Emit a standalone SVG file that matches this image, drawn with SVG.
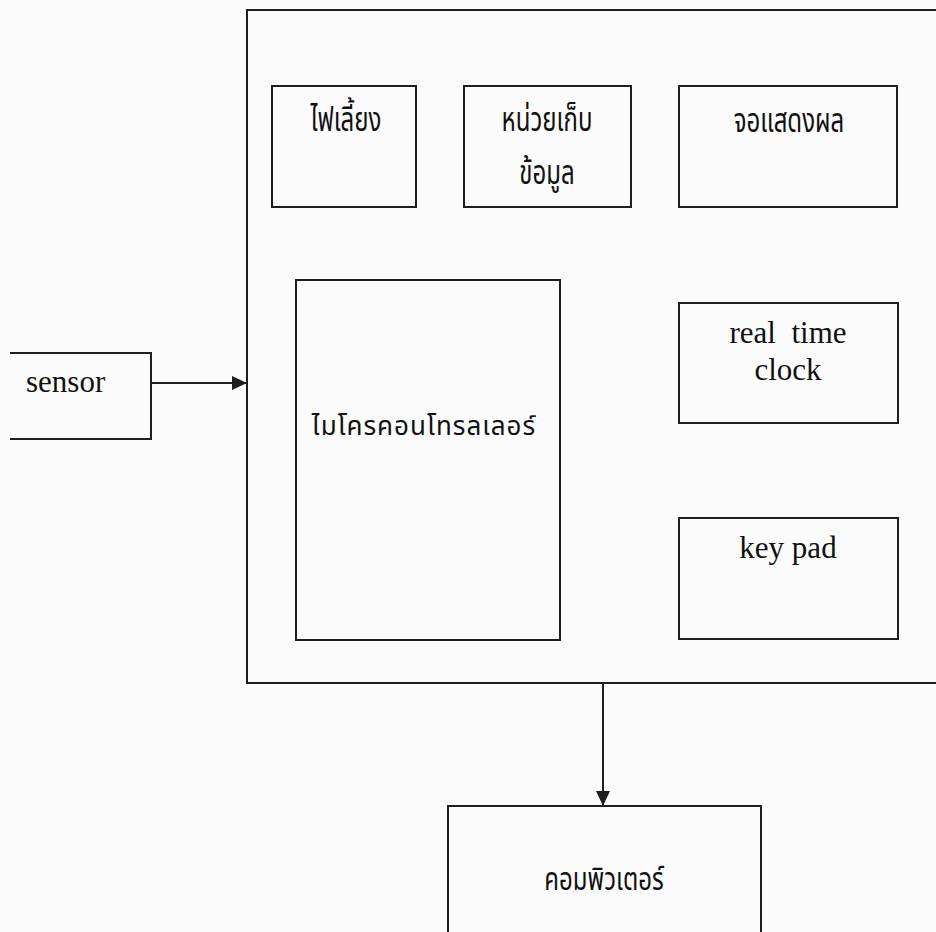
<svg xmlns="http://www.w3.org/2000/svg" width="936" height="932" viewBox="0 0 936 932">
<style>
  .box { fill: none; stroke: #1e1e1e; stroke-width: 2; }
  .edge { fill: none; stroke: #1e1e1e; stroke-width: 2; }
  .en { font-family: "Liberation Serif", "Times New Roman", serif; font-size: 31px; fill: #111; }
  .th { font-family: "Noto Sans Thai", "Noto Sans", "DejaVu Sans", sans-serif; font-size: 24px; fill: #111; }
  .mid { text-anchor: middle; }
</style>
<defs>
  <marker id="arrow" markerWidth="16" markerHeight="14" refX="15" refY="7" orient="auto" markerUnits="userSpaceOnUse">
    <path d="M0,0 L15,7 L0,14 Z" fill="#1e1e1e"/>
  </marker>
</defs>
<rect width="936" height="932" fill="#fbfbfb"/>

<g id="system">
  <path class="box" d="M940,10 L247,10 L247,683 L940,683"/>
</g>

<g id="power">
  <rect class="box" x="272" y="86" width="144" height="121"/>
  <text class="th mid" transform="translate(346,131) scale(1,1.4)">ไฟเลี้ยง</text>
</g>

<g id="storage">
  <rect class="box" x="464" y="86" width="167" height="121"/>
  <text class="th mid" transform="translate(547,131) scale(1,1.4)">หน่วยเก็บ</text>
  <text class="th mid" transform="translate(547,184) scale(1,1.4)">ข้อมูล</text>
</g>

<g id="display">
  <rect class="box" x="679" y="86" width="218" height="121"/>
  <text class="th mid" transform="translate(789,132) scale(1,1.4)">จอแสดงผล</text>
</g>

<g id="mcu">
  <rect class="box" x="296" y="280" width="264" height="360"/>
  <text class="th mid" x="424" y="435" style="font-size:26px; letter-spacing:1px">ไมโครคอนโทรลเลอร์</text>
</g>

<g id="rtc">
  <rect class="box" x="679" y="303" width="219" height="120"/>
  <text class="en mid" x="788" y="343" xml:space="preserve">real  time</text>
  <text class="en mid" x="788" y="380">clock</text>
</g>

<g id="keypad">
  <rect class="box" x="679" y="518" width="219" height="121"/>
  <text class="en mid" x="788" y="558">key pad</text>
</g>

<g id="sensor">
  <path class="box" d="M10,353 L151,353 L151,439 L10,439"/>
  <text class="en" x="26" y="392">sensor</text>
</g>

<g id="computer">
  <path class="box" d="M448,934 L448,806 L761,806 L761,934"/>
  <text class="th mid" transform="translate(604,890) scale(1,1.3)">คอมพิวเตอร์</text>
</g>

<g id="connectors">
  <line class="edge" x1="151" y1="383" x2="247" y2="383" marker-end="url(#arrow)"/>
  <line class="edge" x1="603" y1="683" x2="603" y2="806" marker-end="url(#arrow)"/>
</g>
</svg>
